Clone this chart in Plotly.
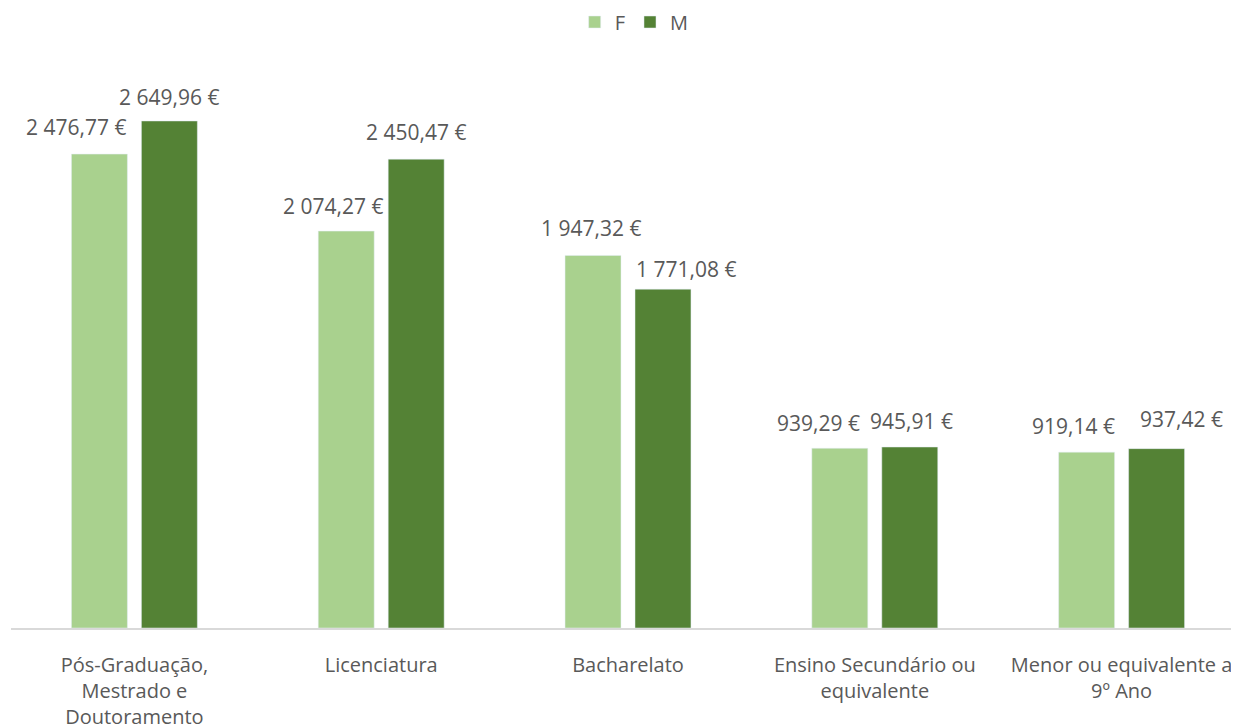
import plotly.graph_objects as go

categories = ["Pós-Graduação,<br>Mestrado e<br>Doutoramento", "Licenciatura", "Bacharelato",
              "Ensino Secundário ou<br>equivalente", "Menor ou equivalente a<br>9º Ano"]
f_values = [2476.77, 2074.27, 1947.32, 939.29, 919.14]
m_values = [2649.96, 2450.47, 1771.08, 945.91, 937.42]

# label placement tweaks (pixels), mimicking the original layout
f_xshift = [-23, -13, -2, -21, -13]
m_xshift = [0, 0, 23, 2, 25]
f_yshift = [27, 25, 27, 25, 26]
m_yshift = [24, 27, 20, 26, 30]


def fmt(v):
    s = f"{v:,.2f}".replace(",", " ").replace(".", ",")
    return s + " €"


LIGHT = "#A9D18E"
DARK = "#548235"
TXT = "#595959"
FONT = "Open Sans"

fig = go.Figure()
fig.add_trace(go.Bar(name="F", x=categories, y=f_values, marker_color=LIGHT, offsetgroup="F"))
fig.add_trace(go.Bar(name="M", x=categories, y=m_values, marker_color=DARK, offsetgroup="M"))

annotations = []
for i, c in enumerate(categories):
    annotations.append(dict(x=i - 0.1417, y=f_values[i], xref="x", yref="y", text=fmt(f_values[i]),
                            showarrow=False, yanchor="middle", xanchor="center",
                            xshift=f_xshift[i], yshift=f_yshift[i],
                            font=dict(family=FONT, size=21, color=TXT)))
    annotations.append(dict(x=i + 0.1417, y=m_values[i], xref="x", yref="y", text=fmt(m_values[i]),
                            showarrow=False, yanchor="middle", xanchor="center",
                            xshift=m_xshift[i], yshift=m_yshift[i],
                            font=dict(family=FONT, size=21, color=TXT)))

fig.update_layout(
    width=1239, height=726,
    margin=dict(l=3, r=2, t=52, b=106),
    paper_bgcolor="white", plot_bgcolor="white",
    barmode="group", bargap=0.433, bargroupgap=0.2,
    font=dict(family=FONT, size=20, color=TXT),
    legend=dict(orientation="h", x=0.505, xanchor="center", y=1 - 14 / 726, yref="container", yanchor="middle",
                font=dict(size=20, color=TXT), traceorder="normal"),
    annotations=annotations,
    showlegend=True,
)
fig.update_xaxes(type="category", range=[-0.5, 4.5], showline=True, linecolor="#D9D9D9", linewidth=1.5,
                 showgrid=False, ticks="", tickfont=dict(size=20, color=TXT), ticklabelstandoff=18)
fig.update_yaxes(range=[0, 2968.6], visible=False, showgrid=False, zeroline=False)

fig.write_html("out.html")
